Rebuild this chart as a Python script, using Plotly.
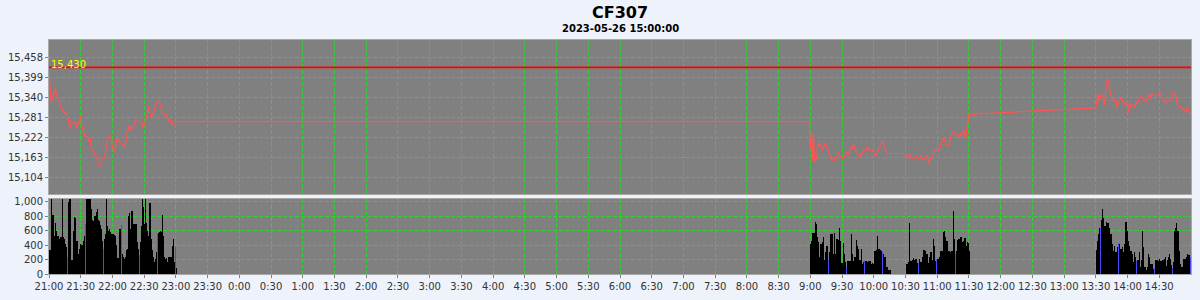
import pandas as pd
import plotly.graph_objects as go

TITLE = "CF307"
SUBTITLE = "2023-05-26 15:00:00"
REF_PRICE = 15430
PRICE_TICKS = [15104, 15163, 15222, 15281, 15340, 15399, 15458]
VOL_TICKS = [0, 200, 400, 600, 800, 1000]

NIGHT_START = "2023-05-25 21:00"
PREOPEN_TIME = "2023-05-26 08:59"
AM_START = "2023-05-26 09:00"
AM2_START = "2023-05-26 10:30"
PM_START = "2023-05-26 13:30"
X_END = "2023-05-26 15:00"

# price samples: minutes after session start, price
night_price_min = [0, 2, 3, 5, 6, 8, 9, 11, 13, 15, 17, 18, 20, 21, 23, 25, 26, 28, 30, 31,
                   33, 35, 36, 38, 39, 40, 42, 43, 45, 47, 49, 50, 52, 53, 54, 55, 57, 58, 59, 60,
                   62, 63, 64, 65, 67, 69, 71, 73, 74, 76, 77, 78, 79, 81, 82, 84, 86, 88, 89, 91,
                   93, 94, 95, 96, 98, 99, 100, 102, 103, 105, 106, 107, 108, 110, 111, 112, 113, 115, 116, 117,
                   119]
night_price = [15420, 15327, 15337, 15356, 15366, 15339, 15339, 15313, 15304, 15293,
               15293, 15279, 15250, 15269, 15265, 15269, 15250, 15265, 15287, 15260,
               15235, 15221, 15226, 15211, 15221, 15187, 15182, 15173, 15163, 15139,
               15139, 15158, 15163, 15173, 15187, 15211, 15226, 15230, 15221, 15192,
               15182, 15207, 15216, 15221, 15207, 15202, 15197, 15211, 15236, 15260,
               15245, 15255, 15245, 15265, 15274, 15269, 15269, 15265, 15250, 15269,
               15293, 15317, 15293, 15284, 15289, 15293, 15308, 15323, 15332, 15323,
               15308, 15293, 15293, 15284, 15293, 15279, 15274, 15274, 15255, 15269,
               15269]

PREOPEN_PRICE = 15269

am_price_min = [0, 1, 2, 3, 4, 6, 7, 8, 9, 11, 12, 13, 14, 16, 17, 18, 19, 21, 22, 23,
                24, 26, 27, 28, 29, 31, 32, 33, 34, 36, 37, 38, 40, 41, 42, 43, 45, 46, 47, 48,
                50, 51, 52, 53, 54, 55, 57, 59, 60, 62, 63, 64, 65, 67, 68, 69, 70, 72, 73, 75,
                90, 92, 93, 94, 96, 97, 98, 99, 101, 102, 103, 105, 106, 107, 108, 110, 111, 112, 113, 115,
                116, 117, 118, 120, 121, 122, 123, 125, 126, 127, 128, 130, 131, 132, 133, 135, 136, 137, 138, 140,
                141, 142, 143, 145, 146, 147, 148, 149, 150]
am_price = [15188, 15231, 15154, 15236, 15149, 15163, 15202, 15197, 15207, 15183,
            15192, 15202, 15207, 15192, 15183, 15168, 15163, 15154, 15163, 15154,
            15163, 15173, 15178, 15163, 15168, 15159, 15165, 15173, 15178, 15173,
            15183, 15194, 15188, 15202, 15192, 15183, 15173, 15168, 15165, 15173,
            15183, 15183, 15188, 15188, 15197, 15185, 15185, 15185, 15173, 15168,
            15178, 15183, 15192, 15202, 15212, 15207, 15192, 15183, 15175, 15175,
            15175, 15159, 15168, 15173, 15163, 15159, 15163, 15161, 15168, 15159,
            15163, 15168, 15159, 15154, 15163, 15168, 15159, 15146, 15159, 15163,
            15168, 15185, 15183, 15181, 15183, 15188, 15197, 15212, 15222, 15215,
            15202, 15200, 15202, 15212, 15226, 15241, 15236, 15236, 15233, 15229,
            15221, 15231, 15231, 15245, 15226, 15221, 15250, 15279, 15291]

pm_price_min = [0, 1, 2, 3, 4, 5, 7, 8, 9, 10, 11, 12, 13, 14, 15, 17, 18, 19, 20, 22,
                23, 24, 25, 27, 28, 29, 30, 31, 32, 33, 34, 35, 37, 38, 39, 41, 42, 43, 44, 46,
                47, 48, 49, 51, 52, 53, 55, 56, 57, 58, 59, 61, 62, 63, 64, 66, 67, 68, 70, 71,
                72, 73, 75, 76, 77, 78, 80, 81, 82, 83, 85, 86, 87, 88, 89]
pm_price = [15310, 15332, 15351, 15327, 15351, 15337, 15346, 15317, 15356, 15380,
            15394, 15389, 15366, 15356, 15332, 15337, 15327, 15332, 15313, 15327,
            15337, 15344, 15332, 15322, 15327, 15317, 15327, 15296, 15322, 15313,
            15322, 15317, 15313, 15327, 15322, 15341, 15344, 15344, 15338, 15332,
            15337, 15329, 15338, 15351, 15338, 15351, 15348, 15346, 15346, 15346,
            15348, 15358, 15351, 15341, 15332, 15325, 15332, 15327, 15332, 15337,
            15346, 15356, 15351, 15341, 15322, 15313, 15315, 15308, 15303, 15308,
            15300, 15308, 15313, 15298, 15287]

# per-minute volume, one value per minute from the session start
night_vol = [327, 327, 1040, 820, 820, 528, 700, 600, 528, 485,
             505, 505, 1040, 505, 485, 420, 372, 237, 1000, 1040,
             1040, 190, 190, 600, 790, 775, 460, 280, 350, 415,
             395, 395, 450, 530, 685, 1040, 1040, 1040, 1040, 1040,
             900, 750, 730, 800, 850, 890, 750, 730, 680, 620,
             450, 350, 485, 550, 1040, 660, 600, 620, 575, 550,
             550, 540, 530, 395, 225, 225, 620, 620, 680, 280,
             240, 211, 240, 330, 350, 797, 840, 620, 864, 685,
             684, 685, 684, 440, 346, 260, 437, 660, 1040, 930,
             684, 1040, 710, 600, 530, 977, 485, 333, 240, 170,
             211, 300, 550, 571, 575, 600, 575, 819, 530, 240,
             211, 215, 166, 240, 234, 240, 391, 485, 170, 369,
             76]
am_vol = [415, 460, 570, 570, 720, 685, 505, 435, 235, 415,
          415, 435, 513, 190, 300, 390, 390, 200, 300, 558,
          558, 279, 570, 279, 480, 480, 468, 630, 459, 145,
          145, 423, 279, 167, 90, 180, 180, 180, 550, 279,
          180, 234, 234, 470, 392, 347, 189, 189, 347, 135,
          167, 180, 180, 180, 167, 180, 180, 135, 153, 135,
          324, 324, 333, 527, 347, 347, 333, 315, 310, 279,
          234, 234, 90, 54, 54, 54]
am2_vol = [135, 135, 167, 705, 180, 180, 189, 225, 189, 212,
           212, 153, 150, 212, 167, 167, 234, 333, 324, 279,
           279, 153, 234, 301, 301, 189, 480, 392, 180, 190,
           212, 212, 234, 315, 315, 585, 594, 504, 459, 459,
           324, 315, 301, 315, 315, 873, 481, 279, 324, 468,
           481, 481, 504, 437, 459, 495, 495, 392, 437, 423,
           324]
pm_vol = [333, 460, 550, 640, 640, 740, 890, 775, 660, 660,
          720, 705, 640, 550, 550, 415, 324, 392, 301, 301,
          369, 423, 414, 347, 347, 369, 301, 414, 720, 600,
          459, 392, 324, 324, 279, 167, 301, 234, 176, 189,
          189, 301, 90, 200, 594, 378, 90, 54, 100, 279,
          234, 135, 144, 144, 63, 76, 198, 198, 198, 180,
          212, 180, 180, 189, 212, 234, 108, 200, 234, 279,
          212, 122, 76, 167, 594, 639, 705, 600, 594, 324,
          144, 99, 212, 212, 212, 234, 279, 257, 257, 234]

# bars drawn in blue in the reference
blue_bar_times = ["2023-05-25 21:17", "2023-05-25 21:34", "2023-05-25 21:51", "2023-05-25 22:08",
                  "2023-05-25 22:25", "2023-05-25 22:42", "2023-05-25 22:59",
                  "2023-05-26 09:17", "2023-05-26 09:34", "2023-05-26 09:51", "2023-05-26 10:08",
                  "2023-05-26 10:42", "2023-05-26 10:59", "2023-05-26 11:17",
                  "2023-05-26 13:34", "2023-05-26 13:51", "2023-05-26 14:08", "2023-05-26 14:25",
                  "2023-05-26 14:42", "2023-05-26 14:59"]

BG = "#EEF2FA"
PLOT_BG = "#808080"
GRID = "#30D030"
PRICE_COLOR = "#FF5454"
FONT = "DejaVu Sans"

def offs(start, mins):
    s = pd.Timestamp(start)
    return [s + pd.Timedelta(minutes=m) for m in mins]

price_x = (offs(NIGHT_START, night_price_min) + [pd.Timestamp(PREOPEN_TIME)]
           + offs(AM_START, am_price_min) + offs(PM_START, pm_price_min))
price_y = night_price + [PREOPEN_PRICE] + am_price + pm_price

vol_x = (offs(NIGHT_START, range(len(night_vol))) + offs(AM_START, range(len(am_vol)))
         + offs(AM2_START, range(len(am2_vol))) + offs(PM_START, range(len(pm_vol))))
vol_y = night_vol + am_vol + am2_vol + pm_vol
blue_set = set(pd.Timestamp(t) for t in blue_bar_times)
vol_colors = ["#4848FF" if t in blue_set else "#000000" for t in vol_x]

tickvals = list(pd.date_range(NIGHT_START, pd.Timestamp(X_END) - pd.Timedelta(minutes=30), freq="30min"))
ticktext = [f"{t.hour}:{t.minute:02d}" for t in tickvals]

fig = go.Figure()
fig.add_trace(go.Scatter(x=price_x, y=price_y, mode="lines",
                         line=dict(color=PRICE_COLOR, width=1.2), xaxis="x", yaxis="y",
                         showlegend=False, hoverinfo="skip"))
fig.add_trace(go.Bar(x=vol_x, y=vol_y, marker=dict(color=vol_colors, line=dict(width=0)),
                     width=60000, offset=0, xaxis="x2", yaxis="y2", showlegend=False,
                     hoverinfo="skip"))

fig.add_shape(type="line", xref="x domain", yref="y", x0=0, x1=1, y0=REF_PRICE, y1=REF_PRICE,
              line=dict(color="#FF0000", width=1.6))
fig.add_annotation(xref="x domain", yref="y", x=0, y=REF_PRICE, xanchor="left", yanchor="bottom",
                   xshift=0, yshift=-5, text=f"{REF_PRICE:,}", showarrow=False,
                   font=dict(family=FONT, size=10, color="#FFFF00"))

H_PLOT = 300 - 40 - 21
def py(p):
    return (279 - p) / H_PLOT

fig.add_annotation(xref="paper", yref="paper", x=0.5, y=py(11.5), xanchor="center", yanchor="middle",
                   text=f"<b>{TITLE}</b>", showarrow=False, font=dict(family=FONT, size=16, color="#000000"))
fig.add_annotation(xref="paper", yref="paper", x=0.5, y=py(28), xanchor="center", yanchor="middle",
                   text=f"<b>{SUBTITLE}</b>", showarrow=False, font=dict(family=FONT, size=10, color="#000000"))

axis_common = dict(showline=True, linecolor="#A8A8A8", linewidth=1, mirror=True,
                   gridcolor=GRID, griddash="4px,2px", gridwidth=1.4, zeroline=False,
                   ticks="outside", ticklen=3, tickcolor="#808080",
                   tickfont=dict(family=FONT, size=10, color="#333333"))

fig.update_layout(
    width=1200, height=300,
    margin=dict(l=49, r=8, t=40, b=21),
    paper_bgcolor=BG, plot_bgcolor=PLOT_BG,
    bargap=0,
    xaxis=dict(domain=[0, 1], anchor="y", range=[NIGHT_START, X_END], type="date",
               tickvals=tickvals, ticktext=ticktext, showticklabels=False,
               **{k: v for k, v in axis_common.items() if k != "ticks"}, ticks=""),
    xaxis2=dict(domain=[0, 1], anchor="y2", range=[NIGHT_START, X_END], type="date", matches="x",
                tickvals=tickvals, ticktext=ticktext, **axis_common),
    yaxis=dict(domain=[py(197.3), 1], anchor="x", range=[15055, 15511],
               tickvals=PRICE_TICKS, tickformat=",d", **axis_common),
    yaxis2=dict(domain=[0, py(202.3)], anchor="x2", range=[0, 1036],
                tickvals=VOL_TICKS, tickformat=",d", **axis_common),
)

# snap the dashed grid lines onto pixel centres so each renders crisply
SNAP_GRID_JS = r"""
(function(){
  var gd = document.getElementById('{plot_id}');
  function fix(){
    document.querySelectorAll('path.xgrid, path.x2grid, path.ygrid, path.y2grid').forEach(function(p){
      var isX = p.classList.contains('xgrid') || p.classList.contains('x2grid');
      var t = p.getAttribute('transform') || '';
      var m = t.match(/translate\(\s*([-\d.eE+]+)[\s,]+([-\d.eE+]+)\s*\)/);
      if(m){
        var a = parseFloat(m[1]), b = parseFloat(m[2]);
        if(isX){ a = Math.floor(a) + 0.5; } else { b = Math.floor(b) + 0.5; }
        p.setAttribute('transform', 'translate(' + a + ',' + b + ')');
      }
    });
  }
  fix();
  if(gd && gd.on){ gd.on('plotly_afterplot', fix); }
  setTimeout(fix, 30);
})();
"""

fig.write_html("out.html", config={"staticPlot": True}, post_script=SNAP_GRID_JS)
